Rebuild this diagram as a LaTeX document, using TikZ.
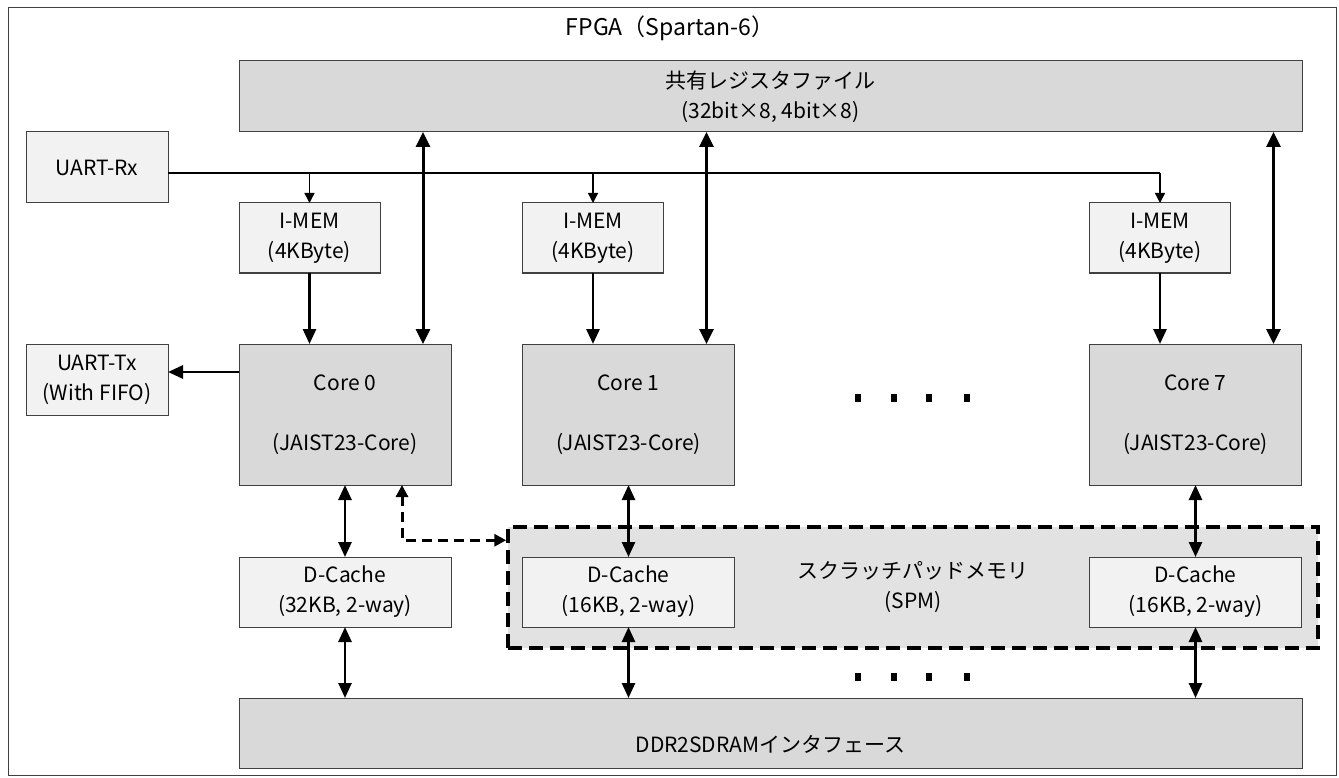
\documentclass[tikz,border=0pt]{standalone}
\usepackage{fontspec}
\setmainfont{Noto Sans CJK JP}
\usetikzlibrary{arrows.meta}
\definecolor{boxdark}{HTML}{D9D9D9}
\definecolor{boxlight}{HTML}{F2F2F2}
\definecolor{edgegray}{HTML}{404040}
\definecolor{spmfill}{HTML}{E2E2E2}
\tikzset{
  box/.style={draw=edgegray,line width=1pt,inner sep=0pt,outer sep=0pt,align=center,
    font=\fontsize{21}{30}\selectfont},
  darkbox/.style={box,fill=boxdark},
  lightbox/.style={box,fill=boxlight},
  corebox/.style={darkbox,minimum width=212pt,minimum height=141pt,font=\fontsize{21}{60}\selectfont},
  imembox/.style={lightbox,minimum width=141pt,minimum height=70pt},
  dcbox/.style={lightbox,minimum width=212pt,minimum height=70pt},
  thinarrow/.style={line width=1.4pt,-{Triangle[length=10pt,width=10pt]}},
  thinline/.style={line width=1.4pt},
  medarrow/.style={line width=2.8pt,-{Triangle[length=15pt,width=13pt]}},
  bigbi/.style={line width=3pt,{Triangle[length=15pt,width=14pt]}-{Triangle[length=15pt,width=14pt]}},
  medbi/.style={line width=2.6pt,{Triangle[length=15pt,width=13pt]}-{Triangle[length=15pt,width=13pt]}},
  dashbi/.style={line width=3pt,dash pattern=on 10pt off 6pt,{Triangle[length=12pt,width=12pt]}-{Triangle[length=12pt,width=12pt]}},
}
\begin{document}
\begin{tikzpicture}[x=1pt,y=-1pt]
\useasboundingbox (0,0) rectangle (1339,778);
% outer frame
\node[draw=edgegray,line width=1pt,minimum width=1328pt,minimum height=767pt,inner sep=0pt] (frame) at (672,391.5) {};
\node[font=\fontsize{23}{28}\selectfont,inner sep=0pt] (title) at (670,28) {FPGA（Spartan-6）};
% register file
\node[darkbox,minimum width=1063pt,minimum height=71pt] (reg) at (770.5,96.5) {共有レジスタファイル\\(32bit×8, 4bit×8)};
% UARTs
\node[lightbox,minimum width=142pt,minimum height=71pt] (rx) at (97,167.5) {UART-Rx};
\node[lightbox,minimum width=142pt,minimum height=71pt] (tx) at (97,379.5) {UART-Tx\\(With FIFO)};
% I-MEM
\node[imembox] (imem0) at (309.5,238) {I-MEM\\(4KByte)};
\node[imembox] (imem1) at (593,238) {I-MEM\\(4KByte)};
\node[imembox] (imem7) at (1160,238) {I-MEM\\(4KByte)};
% cores
\node[corebox] (core0) at (345,414.5) {Core 0\\(JAIST23-Core)};
\node[corebox] (core1) at (628.5,414.5) {Core 1\\(JAIST23-Core)};
\node[corebox] (core7) at (1195.5,414.5) {Core 7\\(JAIST23-Core)};
% SPM region
\node[draw=black,fill=spmfill,line width=3.5pt,dash pattern=on 14pt off 7pt,
  minimum width=810pt,minimum height=121pt,inner sep=0pt,align=center,
  font=\fontsize{21}{30}\selectfont] (spm) at (913,587.5) {スクラッチパッドメモリ\\(SPM)};
% D-Cache
\node[dcbox] (dc0) at (345,592) {D-Cache\\(32KB, 2-way)};
\node[dcbox] (dc1) at (628.5,592) {D-Cache\\(16KB, 2-way)};
\node[dcbox] (dc7) at (1195.5,592) {D-Cache\\(16KB, 2-way)};
% DDR
\node[darkbox,minimum width=1063pt,minimum height=70pt] (ddr) at (770.5,733) {\raisebox{-19pt}[0pt][0pt]{DDR2SDRAMインタフェース}};
% Rx distribution
\coordinate (rxo) at ([yshift=-5.5pt]rx.east);
\draw[thinline] (rxo) -- (rxo -| imem7.north);
\draw[thinarrow] (rxo -| imem0.north) -- (imem0.north);
\draw[thinarrow] (rxo -| imem1.north) -- (imem1.north);
\draw[thinarrow] (rxo -| imem7.north) -- (imem7.north);
% I-MEM to core
\draw[medarrow] (imem0.south) -- (imem0.south |- core0.north);
\draw[medarrow] (imem1.south) -- (imem1.south |- core1.north);
\draw[medarrow] (imem7.south) -- (imem7.south |- core7.north);
% register file <-> cores
\draw[bigbi] ([xshift=-28pt]core0.north east) -- ([xshift=-28pt]core0.north east |- reg.south);
\draw[bigbi] ([xshift=-28pt]core1.north east) -- ([xshift=-28pt]core1.north east |- reg.south);
\draw[bigbi] ([xshift=-28pt]core7.north east) -- ([xshift=-28pt]core7.north east |- reg.south);
% core0 -> UART-Tx
\draw[medarrow] ([yshift=-28pt]core0.north west) -- ([yshift=-28pt]core0.north west -| tx.east);
% core <-> D-Cache
\draw[medbi] (core0) -- (dc0);
\draw[medbi] (core1) -- (dc1);
\draw[medbi] (core7) -- (dc7);
% D-Cache <-> DDR
\draw[medbi] (dc0.south) -- (dc0.south |- ddr.north);
\draw[medbi] (dc1.south) -- (dc1.south |- ddr.north);
\draw[medbi] (dc7.south) -- (dc7.south |- ddr.north);
% core0 <-> SPM (dashed)
\draw[dashbi] ([xshift=-49pt]core0.south east) |- ([yshift=-15pt]spm.north west);
% ellipsis dots
\foreach \x in {858,894,929,967} {
  \fill (\x-3,394) rectangle (\x+3,402);
  \fill (\x-3,673) rectangle (\x+3,681);
}
\end{tikzpicture}
\end{document}
